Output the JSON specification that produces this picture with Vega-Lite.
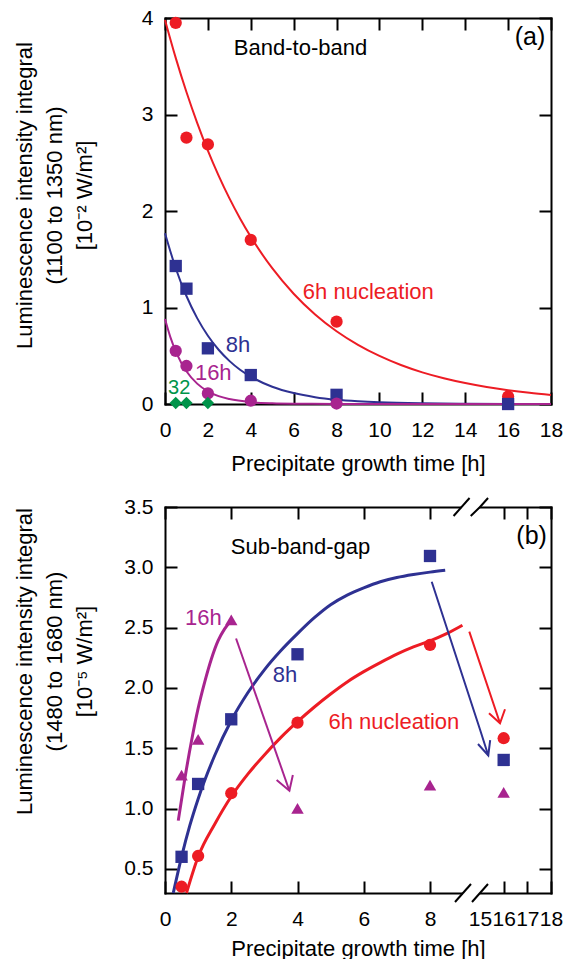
{
  "$schema": "https://vega.github.io/schema/vega-lite/v6.json",
  "padding": {"left": 13, "top": 7, "right": 5, "bottom": 0},
  "spacing": 20,
  "config": {
    "view": {"stroke": null},
    "font": "Liberation Sans",
    "axis": {
      "domainColor": "black", "domainWidth": 2, "domainCap": "square",
      "tickColor": "black", "tickWidth": 2, "tickSize": 12,
      "labelFont": "Liberation Sans", "labelFontSize": 21, "labelColor": "black",
      "titleFont": "Liberation Sans", "titleFontSize": 22, "titleFontWeight": "normal", "titleColor": "black",
      "grid": false, "zindex": 0, "labelFlush": false, "labelOverlap": false
    },
    "text": {"font": "Liberation Sans"}
  },
  "datasets": {
    "curvesA": [
      {"s":"6h","x":0,"y":3.98},{"s":"6h","x":0.5,"y":3.587},{"s":"6h","x":1,"y":3.233},{"s":"6h","x":1.5,"y":2.914},{"s":"6h","x":2,"y":2.626},{"s":"6h","x":2.5,"y":2.367},{"s":"6h","x":3,"y":2.133},{"s":"6h","x":3.5,"y":1.923},{"s":"6h","x":4,"y":1.733},{"s":"6h","x":5,"y":1.407},{"s":"6h","x":6,"y":1.143},{"s":"6h","x":7,"y":0.928},{"s":"6h","x":8,"y":0.754},{"s":"6h","x":9,"y":0.613},{"s":"6h","x":10,"y":0.498},{"s":"6h","x":11,"y":0.404},{"s":"6h","x":12,"y":0.328},{"s":"6h","x":13,"y":0.267},{"s":"6h","x":14,"y":0.217},{"s":"6h","x":15,"y":0.176},{"s":"6h","x":16,"y":0.143},{"s":"6h","x":17,"y":0.116},{"s":"6h","x":18,"y":0.094},
      {"s":"8h","x":0,"y":1.77},{"s":"8h","x":0.5,"y":1.407},{"s":"8h","x":1,"y":1.119},{"s":"8h","x":1.5,"y":0.89},{"s":"8h","x":2,"y":0.707},{"s":"8h","x":2.5,"y":0.562},{"s":"8h","x":3,"y":0.447},{"s":"8h","x":3.5,"y":0.355},{"s":"8h","x":4,"y":0.283},{"s":"8h","x":5,"y":0.179},{"s":"8h","x":6,"y":0.113},{"s":"8h","x":7,"y":0.071},{"s":"8h","x":8,"y":0.045},{"s":"8h","x":9,"y":0.029},{"s":"8h","x":10,"y":0.018},{"s":"8h","x":12,"y":0.007},{"s":"8h","x":14,"y":0.003},{"s":"8h","x":16,"y":0.001},{"s":"8h","x":18,"y":0.0005},
      {"s":"16h","x":0,"y":0.88},{"s":"16h","x":0.25,"y":0.693},{"s":"16h","x":0.5,"y":0.547},{"s":"16h","x":0.75,"y":0.431},{"s":"16h","x":1,"y":0.34},{"s":"16h","x":1.5,"y":0.211},{"s":"16h","x":2,"y":0.131},{"s":"16h","x":2.5,"y":0.081},{"s":"16h","x":3,"y":0.051},{"s":"16h","x":4,"y":0.0195},{"s":"16h","x":5,"y":0.0075},{"s":"16h","x":6,"y":0.003},{"s":"16h","x":8,"y":0.0005},{"s":"16h","x":10,"y":0},{"s":"16h","x":18,"y":0}
    ],
    "pointsA": [
      {"s":"6h","m":"circle","x":0.5,"y":3.95},{"s":"6h","m":"circle","x":1,"y":2.76},{"s":"6h","m":"circle","x":2,"y":2.69},{"s":"6h","m":"circle","x":4,"y":1.7},{"s":"6h","m":"circle","x":8,"y":0.853},{"s":"6h","m":"circle","x":16,"y":0.078},
      {"s":"8h","m":"square","x":0.5,"y":1.43},{"s":"8h","m":"square","x":1,"y":1.195},{"s":"8h","m":"square","x":2,"y":0.577},{"s":"8h","m":"square","x":4,"y":0.3},{"s":"8h","m":"square","x":8,"y":0.095},{"s":"8h","m":"square","x":16,"y":0.0},
      {"s":"16h","m":"circle","x":0.5,"y":0.55},{"s":"16h","m":"circle","x":1,"y":0.394},{"s":"16h","m":"circle","x":2,"y":0.11},{"s":"16h","m":"circle","x":4,"y":0.034},{"s":"16h","m":"circle","x":8,"y":0.005},
      {"s":"32h","m":"diamond","x":0.5,"y":0.01},{"s":"32h","m":"diamond","x":1,"y":0.01},{"s":"32h","m":"diamond","x":2,"y":0.01}
    ],
    "textA": [
      {"s":"label","t":"Band-to-band","x":6.32,"y":3.684},
      {"s":"6h","t":"6h nucleation","x":9.48,"y":1.161},
      {"s":"8h","t":"8h","x":3.4,"y":0.611},
      {"s":"16h","t":"16h","x":2.25,"y":0.317}
    ],
    "curvesB": [
      {"s":"6h","x":0.65,"y":0.3},{"s":"6h","x":1.0,"y":0.6},{"s":"6h","x":1.5,"y":0.87},{"s":"6h","x":2.0,"y":1.1},{"s":"6h","x":2.5,"y":1.285},{"s":"6h","x":3.0,"y":1.445},{"s":"6h","x":3.5,"y":1.59},{"s":"6h","x":4.0,"y":1.72},{"s":"6h","x":4.5,"y":1.84},{"s":"6h","x":5.0,"y":1.95},{"s":"6h","x":5.5,"y":2.05},{"s":"6h","x":6.0,"y":2.135},{"s":"6h","x":6.5,"y":2.21},{"s":"6h","x":7.0,"y":2.28},{"s":"6h","x":7.5,"y":2.34},{"s":"6h","x":8.0,"y":2.39},{"s":"6h","x":10.32,"y":2.45},{"s":"6h","x":12.54,"y":2.52},
      {"s":"8h","x":0.25,"y":0.3},{"s":"8h","x":0.5,"y":0.6},{"s":"8h","x":0.75,"y":0.86},{"s":"8h","x":1.0,"y":1.08},{"s":"8h","x":1.5,"y":1.44},{"s":"8h","x":2.0,"y":1.73},{"s":"8h","x":2.5,"y":1.96},{"s":"8h","x":3.0,"y":2.15},{"s":"8h","x":3.5,"y":2.31},{"s":"8h","x":4.0,"y":2.45},{"s":"8h","x":4.5,"y":2.58},{"s":"8h","x":5.0,"y":2.69},{"s":"8h","x":5.5,"y":2.77},{"s":"8h","x":6.0,"y":2.83},{"s":"8h","x":6.5,"y":2.88},{"s":"8h","x":7.0,"y":2.915},{"s":"8h","x":7.5,"y":2.94},{"s":"8h","x":8.0,"y":2.96},{"s":"8h","x":10.13,"y":2.975},
      {"s":"16h","x":0.4,"y":0.9},{"s":"16h","x":0.6,"y":1.25},{"s":"16h","x":0.8,"y":1.56},{"s":"16h","x":1.0,"y":1.83},{"s":"16h","x":1.2,"y":2.05},{"s":"16h","x":1.4,"y":2.24},{"s":"16h","x":1.6,"y":2.39},{"s":"16h","x":1.8,"y":2.49},{"s":"16h","x":2.0,"y":2.56}
    ],
    "arrowsB": [
      {"s":"16h","seg":"m1","i":0,"x":2.145,"y":2.41},{"s":"16h","seg":"m1","i":1,"x":3.755,"y":1.148},
      {"s":"16h","seg":"m2","i":0,"x":3.37,"y":1.237},{"s":"16h","seg":"m2","i":1,"x":3.755,"y":1.148},{"s":"16h","seg":"m2","i":2,"x":3.86,"y":1.278},
      {"s":"8h","seg":"b1","i":0,"x":8.24,"y":2.88},{"s":"8h","seg":"b1","i":1,"x":15,"y":1.655},{"s":"8h","seg":"b1","i":2,"x":15.35,"y":1.44},
      {"s":"8h","seg":"b2","i":0,"x":14.72,"y":1.535},{"s":"8h","seg":"b2","i":1,"x":15,"y":1.517},{"s":"8h","seg":"b2","i":2,"x":15.35,"y":1.44},{"s":"8h","seg":"b2","i":3,"x":15.43,"y":1.568},
      {"s":"6h","seg":"r1","i":0,"x":13.5,"y":2.467},{"s":"6h","seg":"r1","i":1,"x":15,"y":2.202},{"s":"6h","seg":"r1","i":2,"x":15.845,"y":1.707},
      {"s":"6h","seg":"r2","i":0,"x":15.38,"y":1.79},{"s":"6h","seg":"r2","i":1,"x":15.845,"y":1.707},{"s":"6h","seg":"r2","i":2,"x":16.056,"y":1.823}
    ],
    "pointsB": [
      {"s":"6h","m":"circle","x":0.5,"y":0.352},{"s":"6h","m":"circle","x":1,"y":0.607},{"s":"6h","m":"circle","x":2,"y":1.127},{"s":"6h","m":"circle","x":4,"y":1.712},{"s":"6h","m":"circle","x":8,"y":2.356},{"s":"6h","m":"circle","x":16,"y":1.583},
      {"s":"8h","m":"square","x":0.5,"y":0.6},{"s":"8h","m":"square","x":1,"y":1.204},{"s":"8h","m":"square","x":2,"y":1.74},{"s":"8h","m":"square","x":4,"y":2.279},{"s":"8h","m":"square","x":8,"y":3.094},{"s":"8h","m":"square","x":16,"y":1.403},
      {"s":"16h","m":"triangle-up","x":0.5,"y":1.278},{"s":"16h","m":"triangle-up","x":1,"y":1.574},{"s":"16h","m":"triangle-up","x":2,"y":2.564},{"s":"16h","m":"triangle-up","x":4,"y":1.002},{"s":"16h","m":"triangle-up","x":8,"y":1.195},{"s":"16h","m":"triangle-up","x":16,"y":1.135}
    ],
    "textB": [
      {"s":"label","t":"Sub-band-gap","x":4.09,"y":3.171},
      {"s":"16h","t":"16h","x":1.157,"y":2.577},
      {"s":"8h","t":"8h","x":3.625,"y":2.108},
      {"s":"6h","t":"6h nucleation","x":6.91,"y":1.72}
    ],
    "breakMask": [
      {"seg":"k1","x":12.62,"y":0.3},{"seg":"k1","x":15,"y":0.3},
      {"seg":"k2","x":12.4,"y":3.5},{"seg":"k2","x":14.9,"y":3.5}
    ],
    "breakSlash": [
      {"seg":"s1","i":0,"x":11.5,"y":0.2254},{"seg":"s1","i":1,"x":13.74,"y":0.3746},
      {"seg":"s2","i":0,"x":13.88,"y":0.2254},{"seg":"s2","i":1,"x":15,"y":0.3},{"seg":"s2","i":2,"x":15.338,"y":0.3746},
      {"seg":"s3","i":0,"x":11.3,"y":3.4254},{"seg":"s3","i":1,"x":13.54,"y":3.5746},
      {"seg":"s4","i":0,"x":13.7,"y":3.4254},{"seg":"s4","i":1,"x":15,"y":3.5},{"seg":"s4","i":2,"x":15.34,"y":3.5746}
    ]
  },
  "vconcat": [
    {
      "width": 386, "height": 386,
      "layer": [
        {
          "data": {"name": "curvesA"},
          "mark": {"type": "line", "strokeWidth": 2, "interpolate": "monotone"},
          "encoding": {
            "x": {"field": "x", "type": "quantitative", "scale": {"domain": [0, 18], "nice": false, "zero": false},
                  "axis": {"orient": "bottom", "values": [0,2,4,6,8,10,12,14,16,18], "ticks": false, "title": "Precipitate growth time [h]", "labelPadding": 15, "titlePadding": 13}},
            "y": {"field": "y", "type": "quantitative", "scale": {"domain": [0, 4], "nice": false},
                  "axis": {"orient": "left", "values": [0,1,2,3,4], "ticks": false, "labelPadding": 12,
                           "title": ["Luminescence intensity integral", "(1100 to 1350 nm)", "[10⁻² W/m²]"],
                           "titleAngle": 270, "titleX": -151, "titleY": 177, "titleAlign": "center", "titleBaseline": "top", "titleLineHeight": 30}},
            "color": {"field": "s", "type": "nominal", "legend": null,
                      "scale": {"domain": ["6h","8h","16h","32h","label"], "range": ["#ED1C24","#2E3192","#A8248F","#00944A","#000000"]}},
            "detail": {"field": "s"}
          }
        },
        {
          "data": {"name": "pointsA"},
          "mark": {"type": "point", "filled": true, "opacity": 1},
          "encoding": {
            "x": {"field": "x", "type": "quantitative", "axis": {"orient": "top", "ticks": false, "labels": false, "title": null}},
            "y": {"field": "y", "type": "quantitative", "axis": {"orient": "right", "ticks": false, "labels": false, "title": null}},
            "color": {"field": "s", "type": "nominal", "legend": null},
            "shape": {"field": "m", "type": "nominal", "scale": null},
            "size": {"field": "m", "type": "nominal", "legend": null, "scale": {"domain": ["circle","square","diamond","triangle-up"], "range": [150, 155, 280, 190]}}
          }
        },
        {
          "data": {"name": "textA"},
          "mark": {"type": "text", "fontSize": 22, "baseline": "middle", "align": "center"},
          "encoding": {
            "x": {"field": "x", "type": "quantitative", "axis": {"orient": "top", "offset": -386, "domain": false, "labels": false, "title": null, "values": [0,2,4,6,8,10,12,14,16,18]}},
            "y": {"field": "y", "type": "quantitative", "axis": {"orient": "right", "offset": -386, "domain": false, "labels": false, "title": null, "values": [0,1,2,3,4]}},
            "text": {"field": "t"},
            "color": {"field": "s", "type": "nominal", "legend": null}
          }
        },
        {
          "data": {"values": [{"s":"32h","t":"32","x":0.66,"y":0.162}]},
          "mark": {"type": "text", "fontSize": 20, "baseline": "middle", "align": "center"},
          "encoding": {
            "x": {"field": "x", "type": "quantitative", "axis": {"orient": "bottom", "offset": -386, "domain": false, "labels": false, "title": null, "values": [0,2,4,6,8,10,12,14,16,18]}},
            "y": {"field": "y", "type": "quantitative", "axis": {"orient": "left", "offset": -386, "domain": false, "labels": false, "title": null, "values": [0,1,2,3,4]}},
            "text": {"field": "t"},
            "color": {"field": "s", "type": "nominal", "legend": null}
          }
        },
        {
          "data": {"values": [{"s":"label","t":"(a)","x":17.02,"y":3.8}]},
          "mark": {"type": "text", "fontSize": 25, "baseline": "middle", "align": "center"},
          "encoding": {
            "x": {"field": "x", "type": "quantitative", "axis": null},
            "y": {"field": "y", "type": "quantitative", "axis": null},
            "text": {"field": "t"},
            "color": {"field": "s", "type": "nominal", "legend": null}
          }
        }
      ],
      "resolve": {"axis": {"x": "independent", "y": "independent"}}
    },
    {
      "width": 386, "height": 386,
      "layer": [
        {
          "data": {"name": "breakMask"},
          "mark": {"type": "line", "stroke": "white", "strokeWidth": 5},
          "encoding": {
            "x": {"field": "x", "type": "quantitative",
                  "scale": {"domain": [0, 8, 15, 18], "range": [0, 265, 315, 386], "nice": false, "zero": false},
                  "axis": {"orient": "bottom", "values": [0,2,4,6,8,15,16,17,18], "format": "d", "ticks": false, "title": "Precipitate growth time [h]", "labelPadding": 15, "titlePadding": 9}},
            "y": {"field": "y", "type": "quantitative", "scale": {"domain": [0.3, 3.5], "nice": false, "zero": false},
                  "axis": {"orient": "left", "values": [0.5,1,1.5,2,2.5,3,3.5], "format": ".1f", "ticks": false, "labelPadding": 12,
                           "title": ["Luminescence intensity integral", "(1480 to 1680 nm)", "[10⁻⁵ W/m²]"],
                           "titleAngle": 270, "titleX": -151, "titleY": 154, "titleAlign": "center", "titleBaseline": "top", "titleLineHeight": 30}},
            "detail": {"field": "seg"}
          }
        },
        {
          "data": {"name": "breakSlash"},
          "mark": {"type": "line", "stroke": "black", "strokeWidth": 2},
          "encoding": {
            "x": {"field": "x", "type": "quantitative", "axis": {"orient": "top", "ticks": false, "labels": false, "title": null}},
            "y": {"field": "y", "type": "quantitative", "axis": {"orient": "right", "ticks": false, "labels": false, "title": null}},
            "detail": {"field": "seg"},
            "order": {"field": "i"}
          }
        },
        {
          "data": {"name": "curvesB"},
          "mark": {"type": "line", "strokeWidth": 3, "interpolate": "monotone"},
          "encoding": {
            "x": {"field": "x", "type": "quantitative", "axis": {"orient": "top", "offset": -386, "domain": false, "labels": false, "title": null, "values": [0,2,4,6,8,15,16,17,18],
                  "tickOpacity": {"condition": {"test": "datum.value === 15", "value": 0}, "value": 1}}},
            "y": {"field": "y", "type": "quantitative", "axis": {"orient": "right", "offset": -386, "domain": false, "labels": false, "title": null, "values": [0.5,1,1.5,2,2.5,3,3.5]}},
            "color": {"field": "s", "type": "nominal", "legend": null,
                      "scale": {"domain": ["6h","8h","16h","32h","label"], "range": ["#ED1C24","#2E3192","#A8248F","#00944A","#000000"]}},
            "detail": {"field": "s"}
          }
        },
        {
          "data": {"name": "arrowsB"},
          "mark": {"type": "line", "strokeWidth": 2},
          "encoding": {
            "x": {"field": "x", "type": "quantitative", "axis": {"orient": "bottom", "offset": -386, "domain": false, "labels": false, "title": null, "values": [0,2,4,6,8,15,16,17,18],
                  "tickOpacity": {"condition": {"test": "datum.value === 15", "value": 0}, "value": 1}}},
            "y": {"field": "y", "type": "quantitative", "axis": {"orient": "left", "offset": -386, "domain": false, "labels": false, "title": null, "values": [0.5,1,1.5,2,2.5,3,3.5]}},
            "color": {"field": "s", "type": "nominal", "legend": null},
            "detail": {"field": "seg"},
            "order": {"field": "i"}
          }
        },
        {
          "data": {"name": "pointsB"},
          "mark": {"type": "point", "filled": true, "opacity": 1},
          "encoding": {
            "x": {"field": "x", "type": "quantitative", "axis": null},
            "y": {"field": "y", "type": "quantitative", "axis": null},
            "color": {"field": "s", "type": "nominal", "legend": null},
            "shape": {"field": "m", "type": "nominal", "scale": null},
            "size": {"field": "m", "type": "nominal", "legend": null, "scale": {"domain": ["circle","square","diamond","triangle-up"], "range": [150, 145, 280, 190]}}
          }
        },
        {
          "data": {"name": "textB"},
          "mark": {"type": "text", "fontSize": 22, "baseline": "middle", "align": "center"},
          "encoding": {
            "x": {"field": "x", "type": "quantitative", "axis": null},
            "y": {"field": "y", "type": "quantitative", "axis": null},
            "text": {"field": "t"},
            "color": {"field": "s", "type": "nominal", "legend": null}
          }
        },
        {
          "data": {"values": [{"s":"label","t":"(b)","x":17.18,"y":3.258}]},
          "mark": {"type": "text", "fontSize": 25, "baseline": "middle", "align": "center"},
          "encoding": {
            "x": {"field": "x", "type": "quantitative", "axis": null},
            "y": {"field": "y", "type": "quantitative", "axis": null},
            "text": {"field": "t"},
            "color": {"field": "s", "type": "nominal", "legend": null}
          }
        }
      ],
      "resolve": {"axis": {"x": "independent", "y": "independent"}}
    }
  ]
}
